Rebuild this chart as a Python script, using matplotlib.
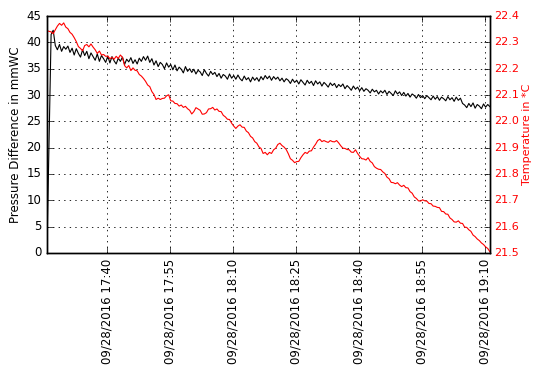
import numpy as np
import matplotlib
matplotlib.use('Agg')
import matplotlib.pyplot as plt
import matplotlib.dates as mdates

plt.style.use('classic')
plt.rcParams['font.size'] = 8.5
plt.rcParams['figure.facecolor'] = 'white'
plt.rcParams['savefig.facecolor'] = 'white'

# samples every 30 s starting 09/28/2016 17:25:45
start_time = np.datetime64('2016-09-28T17:25:45')
step_seconds = 30

pressure = [
    0.0, 21.0, 41.5, 42.3, 39.4, 38.6, 39.6, 38.3, 39.2, 38.7,
    39.3, 38.1, 38.9, 37.6, 38.8, 37.9, 37.2, 38.6, 37.5, 38.3,
    36.9, 38.0, 37.3, 36.6, 37.8, 36.4, 37.5, 36.9, 36.2, 37.4,
    36.1, 37.3, 36.5, 35.9, 37.0, 36.4, 37.2, 35.8, 36.8, 36.3,
    37.1, 36.0, 36.7, 35.9, 37.0, 36.4, 37.3, 36.6, 37.4, 36.2,
    36.9, 35.7, 36.5, 35.4, 36.2, 35.8, 35.0, 36.1, 35.3, 35.8,
    34.8, 35.7, 34.6, 35.3, 34.9, 34.2, 35.4, 34.5, 35.0, 34.3,
    34.9, 34.0, 34.7, 34.4, 33.7, 34.8, 34.1, 33.6, 34.5, 33.9,
    34.3, 33.5, 34.1, 33.2, 33.9, 33.6, 33.0, 34.0, 33.2, 33.7,
    33.0, 33.8, 33.1, 32.7, 33.6, 32.9, 33.3, 32.5, 33.4, 32.8,
    33.3, 32.6, 33.5, 32.9, 33.7, 33.1, 33.6, 32.8, 33.5, 33.0,
    33.4, 32.7, 33.2, 32.5, 33.1, 32.8, 32.2, 33.0, 32.4, 32.8,
    32.1, 32.9, 32.4, 31.9, 32.8, 32.2, 32.6, 31.8, 32.7, 32.1,
    32.5, 31.7, 32.4, 32.0, 31.5, 32.3, 31.8, 32.2, 31.4, 32.0,
    31.6, 32.1, 31.2, 31.8, 31.4, 30.9, 31.7, 31.1, 31.5, 30.8,
    31.4, 30.7, 31.2, 30.9, 30.4, 31.1, 30.6, 30.9, 30.2, 30.8,
    30.4, 30.9, 30.1, 30.7, 30.3, 29.9, 30.8, 30.2, 30.6, 29.9,
    30.5, 29.8, 30.3, 29.6, 30.2, 29.9, 29.4, 30.1, 29.5, 29.9,
    29.3, 29.9, 29.5, 29.1, 29.8, 29.2, 29.7, 29.0, 29.6, 29.3,
    28.9, 29.7, 29.1, 29.5, 28.8, 29.6, 29.0, 29.4, 28.4, 28.1,
    27.6, 28.4, 27.8, 28.5, 27.5, 28.2, 27.9, 27.4, 28.3, 27.7,
    28.2, 27.8,
]

temperature = [
    22.345, 22.342, 22.340, 22.333, 22.348, 22.362, 22.372, 22.365, 22.374, 22.358,
    22.352, 22.338, 22.331, 22.318, 22.303, 22.284, 22.277, 22.268, 22.288, 22.292,
    22.283, 22.294, 22.282, 22.272, 22.258, 22.267, 22.252, 22.254, 22.247, 22.248,
    22.238, 22.243, 22.236, 22.247, 22.239, 22.252, 22.243, 22.212, 22.203, 22.212,
    22.193, 22.203, 22.194, 22.192, 22.178, 22.172, 22.163, 22.152, 22.138, 22.132,
    22.113, 22.102, 22.083, 22.088, 22.083, 22.087, 22.088, 22.097, 22.101, 22.078,
    22.077, 22.068, 22.067, 22.058, 22.062, 22.053, 22.057, 22.048, 22.042, 22.028,
    22.037, 22.052, 22.047, 22.042, 22.027, 22.028, 22.033, 22.047, 22.048, 22.053,
    22.043, 22.047, 22.038, 22.037, 22.023, 22.017, 22.008, 22.007, 21.993, 21.982,
    21.973, 21.982, 21.987, 21.978, 21.977, 21.963, 21.957, 21.943, 21.937, 21.923,
    21.917, 21.903, 21.897, 21.878, 21.882, 21.873, 21.882, 21.878, 21.892, 21.898,
    21.912, 21.917, 21.908, 21.902, 21.893, 21.877, 21.858, 21.852, 21.843, 21.847,
    21.848, 21.862, 21.873, 21.882, 21.878, 21.887, 21.888, 21.902, 21.913, 21.927,
    21.932, 21.923, 21.927, 21.923, 21.920, 21.927, 21.923, 21.922, 21.927, 21.918,
    21.907, 21.898, 21.897, 21.893, 21.892, 21.883, 21.882, 21.892, 21.878, 21.867,
    21.858, 21.857, 21.853, 21.862, 21.848, 21.842, 21.828, 21.822, 21.818, 21.817,
    21.808, 21.802, 21.788, 21.782, 21.768, 21.767, 21.763, 21.767, 21.758, 21.752,
    21.757, 21.748, 21.747, 21.733, 21.727, 21.713, 21.707, 21.698, 21.697, 21.702,
    21.698, 21.697, 21.688, 21.687, 21.678, 21.677, 21.673, 21.672, 21.658, 21.657,
    21.648, 21.647, 21.633, 21.627, 21.618, 21.617, 21.622, 21.613, 21.612, 21.598,
    21.597, 21.588, 21.582, 21.568, 21.562, 21.553, 21.547, 21.538, 21.532, 21.523,
    21.517, 21.505,
]

times = start_time + np.arange(len(pressure)) * np.timedelta64(step_seconds, 's')

fig = plt.figure(figsize=(5.33, 3.65), dpi=100)
ax1 = fig.add_axes([0.088, 0.307, 0.831, 0.649])
ax1.plot(times, pressure, 'k-', linewidth=0.8)
ax1.set_ylim(0, 45)
ax1.set_xlim(times[0], times[-1])
ax1.set_ylabel('Pressure Difference in mmWC', labelpad=3)
ax1.grid(True, color='k', linestyle=':', linewidth=0.6)

ax1.xaxis.set_major_locator(mdates.MinuteLocator(byminute=[10, 25, 40, 55]))
ax1.xaxis.set_major_formatter(mdates.DateFormatter('%m/%d/%Y %H:%M'))
for lbl in ax1.get_xticklabels():
    lbl.set_rotation(90)

ax2 = ax1.twinx()
ax2.plot(times, temperature, 'r-', linewidth=0.8)
ax2.set_ylim(21.5, 22.4)
ax2.set_yticks(np.arange(21.5, 22.41, 0.1))
ax2.yaxis.set_major_formatter(plt.FormatStrFormatter('%.1f'))
ax2.tick_params(axis='y', pad=3, labelsize=8)
ax2.set_ylabel('Temperature in *C', color='r', labelpad=2, fontsize=8)
for lbl in ax2.get_yticklabels():
    lbl.set_color('r')
ax2.set_xlim(times[0], times[-1])

fig.savefig('out.png', dpi=100)
